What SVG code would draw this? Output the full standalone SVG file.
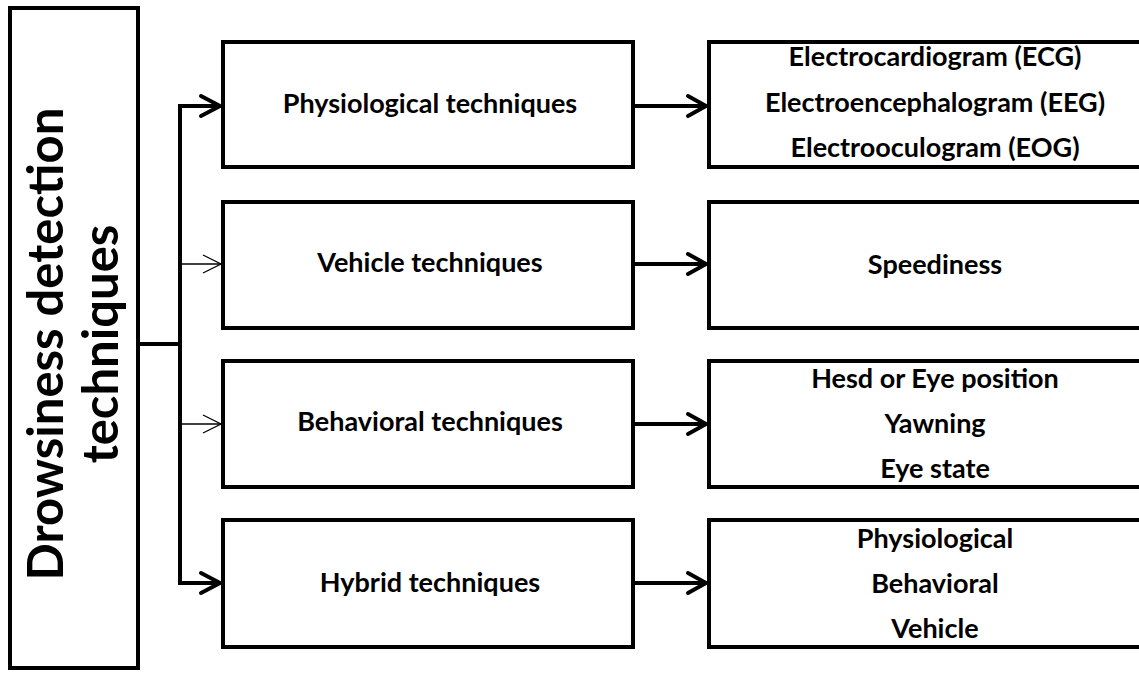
<svg xmlns="http://www.w3.org/2000/svg" width="1139" height="680" viewBox="0 0 1139 680">
<style>
.box{fill:#fff;stroke:#000;stroke-width:4}
.t{font-family:Lato,"Liberation Sans",sans-serif;font-weight:bold;font-size:27px;fill:#000;text-anchor:middle}
.big{font-size:49px}
.thick{fill:none;stroke:#000;stroke-width:4;stroke-linejoin:miter}
.thin{fill:none;stroke:#000;stroke-width:1.3}
.head{fill:none;stroke:#000;stroke-width:4;stroke-linecap:round;stroke-linejoin:miter}
.headthin{fill:none;stroke:#000;stroke-width:1.3}
</style>
<rect width="1139" height="680" fill="#fff"/>
<g id="root">
<rect class="box" x="10" y="8" width="128" height="660" stroke-width="3.5"/>
<text class="t big" transform="rotate(-90)" x="-344" y="63">Drowsiness detection</text>
<text class="t big" transform="rotate(-90)" x="-344" y="118">techniques</text>
</g>
<g id="physiological">
<rect class="box" x="223" y="42" width="410" height="125"/>
<text class="t" x="430" y="113">Physiological techniques</text>
</g>
<g id="vehicle">
<rect class="box" x="223" y="202" width="410" height="126"/>
<text class="t" x="430" y="272">Vehicle techniques</text>
</g>
<g id="behavioral">
<rect class="box" x="223" y="361" width="410" height="126"/>
<text class="t" x="430" y="431">Behavioral techniques</text>
</g>
<g id="hybrid">
<rect class="box" x="223" y="520" width="410" height="127"/>
<text class="t" x="430" y="592">Hybrid techniques</text>
</g>
<g id="physiological-items">
<rect class="box" x="709" y="42" width="460" height="125"/>
<text class="t" x="935" y="66">Electrocardiogram (ECG)</text>
<text class="t" x="935" y="112">Electroencephalogram (EEG)</text>
<text class="t" x="935" y="157">Electrooculogram (EOG)</text>
</g>
<g id="vehicle-items">
<rect class="box" x="709" y="202" width="460" height="126"/>
<text class="t" x="935" y="274">Speediness</text>
</g>
<g id="behavioral-items">
<rect class="box" x="709" y="361" width="460" height="126"/>
<text class="t" x="935" y="388">Hesd or Eye position</text>
<text class="t" x="935" y="433">Yawning</text>
<text class="t" x="935" y="478">Eye state</text>
</g>
<g id="hybrid-items">
<rect class="box" x="709" y="520" width="460" height="127"/>
<text class="t" x="935" y="548">Physiological</text>
<text class="t" x="935" y="593">Behavioral</text>
<text class="t" x="935" y="638">Vehicle</text>
</g>
<g id="connectors">
<line class="thick" x1="138" y1="344" x2="180" y2="344" stroke-width="3"/>
<path class="thick" d="M219,106 H180 V583 H219"/>
<path class="head" d="M201,96 L220,106 L201,116"/>
<path class="head" d="M201,573 L220,583 L201,593"/>
<line class="thin" x1="180" y1="264" x2="221" y2="264"/>
<path class="headthin" d="M203,255 L221,264 L203,273"/>
<line class="thin" x1="180" y1="424" x2="221" y2="424"/>
<path class="headthin" d="M203,415 L221,424 L203,433"/>
<line class="thick" x1="633" y1="106" x2="705" y2="106"/>
<path class="head" d="M688,96 L706,106 L688,116"/>
<line class="thick" x1="633" y1="264" x2="705" y2="264"/>
<path class="head" d="M688,254 L706,264 L688,274"/>
<line class="thick" x1="633" y1="424" x2="705" y2="424"/>
<path class="head" d="M688,414 L706,424 L688,434"/>
<line class="thick" x1="633" y1="583" x2="705" y2="583"/>
<path class="head" d="M688,573 L706,583 L688,593"/>
</g>
</svg>
